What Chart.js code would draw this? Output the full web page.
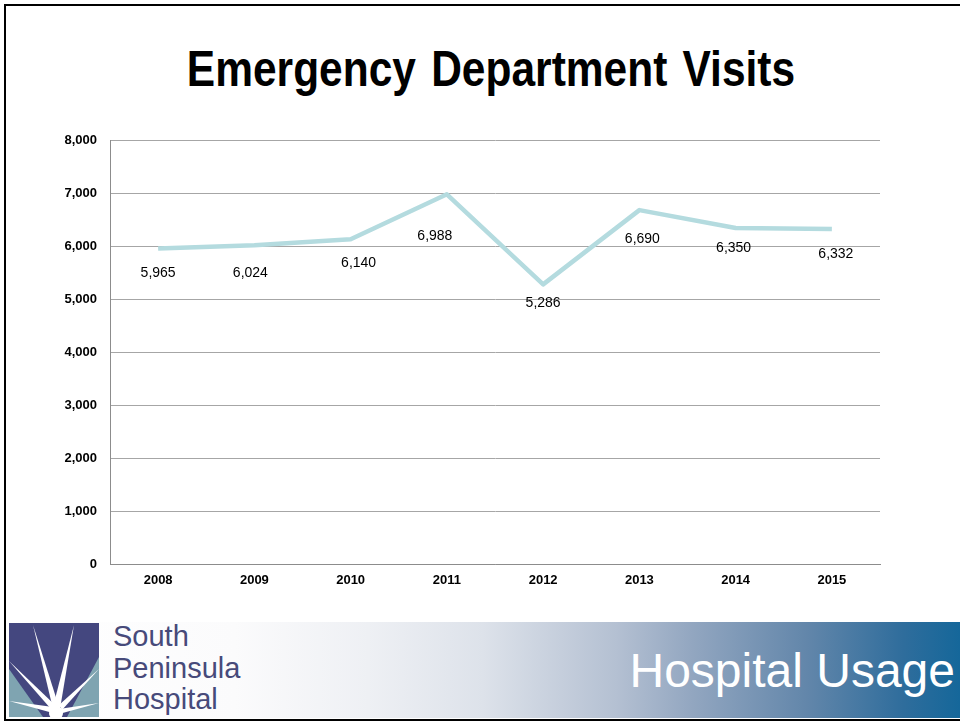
<!DOCTYPE html>
<html>
<head>
<meta charset="utf-8">
<script src="https://cdn.jsdelivr.net/npm/chart.js@4/dist/chart.umd.min.js"></script>
<style>
  html, body { margin: 0; padding: 0; background: #fff; overflow: hidden; }
  body { width: 960px; height: 723px; position: relative; }
  #frame { position: absolute; left: 4px; top: 4px; width: 980px; height: 713px; border: 2px solid #000; border-right: none; box-sizing: content-box; }
  #title { position: absolute; left: 0; width: 982px; top: 41px; text-align: center; font-family: "Liberation Sans", Arial, sans-serif; font-weight: bold; font-size: 50px; line-height: 57px; color: #000; word-spacing: 4px; transform: scaleX(0.85); transform-origin: 491px 0; }
  #chartBox { position: absolute; left: 0; top: 120px; width: 960px; height: 490px; }
  #banner { position: absolute; left: 6px; top: 622px; width: 954px; height: 96px;
    background: linear-gradient(to right, #ffffff 0%, #fbfbfc 24%, #eef0f4 38%, #dde2ea 50%, #b4c0d2 64%, #92a6c0 72%, #6286aa 84%, #2f6d9c 94%, #15679a 100%); }
  #logo { position: absolute; left: 3px; top: 1px; }
  #brand { position: absolute; left: 107px; top: -1px; font-family: "Liberation Sans", Arial, sans-serif; font-size: 29px; line-height: 31.5px; color: #474a7a; }
  #usage { position: absolute; right: 5px; top: 21px; font-family: "Liberation Sans", Arial, sans-serif; font-size: 48px; color: #fff; }
</style>
</head>
<body>
<div id="frame"></div>
<div id="title">Emergency Department Visits</div>
<div id="chartBox"><canvas id="chart"></canvas></div>
<div id="banner">
  <svg id="logo" width="92" height="94" viewBox="0 0 92 94">
    <rect x="0" y="0" width="90" height="94" fill="#44477f"/>
    <polygon points="0,46 0,94 34,94" fill="#7fa4b1"/>
    <polygon points="90,34 90,94 58,94" fill="#7fa4b1"/>
    <!-- starburst rays -->
    <polygon points="24,2 44,86 50,84" fill="#fff"/>
    <polygon points="65,2 44,84 51,86" fill="#fff"/>
    <polygon points="0,38 42,86 46,82" fill="#fff"/>
    <polygon points="0,78 44,90 44,84" fill="#fff"/>
    <polygon points="90,46 50,82 53,87" fill="#fff"/>
    <polygon points="90,80 50,86 50,91" fill="#fff"/>
    <circle cx="47" cy="90" r="7" fill="#fff"/>
  </svg>
  <div id="brand">South<br>Peninsula<br>Hospital</div>
  <div id="usage">Hospital Usage</div>
</div>
<script>
const years = ["2008", "2009", "2010", "2011", "2012", "2013", "2014", "2015"];
const visits = [5965, 6024, 6140, 6988, 5286, 6690, 6350, 6332];
const yTicks = [0, 1000, 2000, 3000, 4000, 5000, 6000, 7000, 8000];
// where each value label sits relative to its point
const labelOffsets = [[0, 25], [-4, 28], [8, 24], [-12, 42], [0, 19], [3, 29], [-2, 20], [4, 25]];

const fmt = (v) => v.toLocaleString("en-US");

const valueLabels = {
  id: "valueLabels",
  afterDatasetsDraw(chart) {
    const ctx = chart.ctx;
    const meta = chart.getDatasetMeta(0);
    ctx.save();
    ctx.font = "14px 'Liberation Sans', Arial, sans-serif";
    ctx.fillStyle = "#000";
    ctx.textAlign = "center";
    ctx.textBaseline = "middle";
    meta.data.forEach((pt, i) => {
      const off = labelOffsets[i];
      ctx.fillText(fmt(visits[i]), pt.x + off[0], pt.y + off[1]);
    });
    ctx.restore();
  }
};

new Chart(document.getElementById("chart"), {
  type: "line",
  data: {
    labels: years,
    datasets: [{
      data: visits,
      borderColor: "#b4dbdf",
      borderWidth: 4.5,
      borderJoinStyle: "round",
      tension: 0,
      pointRadius: 0,
      fill: false
    }]
  },
  options: {
    responsive: true,
    maintainAspectRatio: false,
    animation: false,
    layout: { padding: { top: 19, right: 80, bottom: 0, left: 0 } },
    plugins: {
      legend: { display: false },
      tooltip: { enabled: false }
    },
    scales: {
      x: {
        offset: true,
        grid: { display: false, drawTicks: false },
        border: { display: true, color: "#8c8c8c", width: 1 },
        ticks: {
          padding: 9,
          color: "#000",
          font: { family: "'Liberation Sans', Arial, sans-serif", size: 13, weight: "bold" }
        },
        afterFit(scale) { scale.height = 46; }
      },
      y: {
        min: 0,
        max: 8000,
        afterBuildTicks(scale) { scale.ticks = yTicks.map(v => ({ value: v })); },
        grid: { color: "#a6a6a6", lineWidth: 1, drawTicks: false },
        border: { display: true, color: "#8c8c8c", width: 1 },
        ticks: {
          padding: 13,
          color: "#000",
          font: { family: "'Liberation Sans', Arial, sans-serif", size: 13, weight: "bold" },
          callback: (v) => fmt(v)
        },
        afterFit(scale) { scale.width = 110; }
      }
    }
  },
  plugins: [valueLabels]
});
</script>
</body>
</html>
